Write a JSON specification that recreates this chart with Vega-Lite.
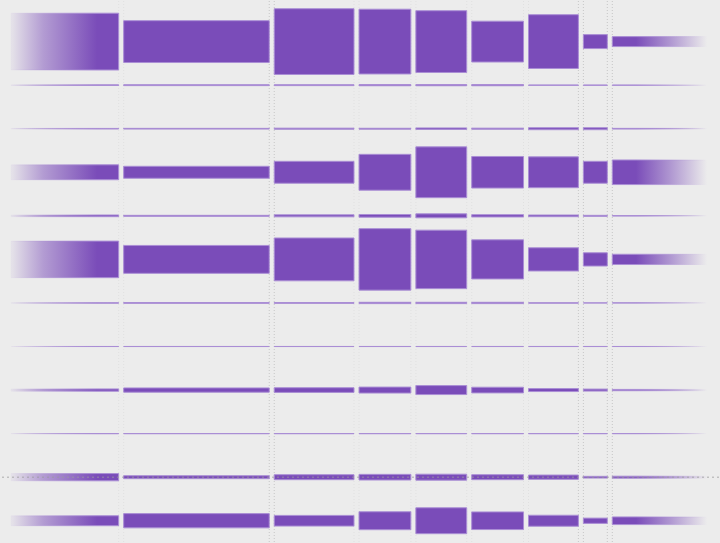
{
  "$schema": "https://vega.github.io/schema/vega-lite/v6.json",
  "width": 720,
  "height": 543,
  "autosize": {"type": "fit", "contains": "padding"},
  "padding": 0,
  "background": "#ececec",
  "config": {"view": {"stroke": null}},
  "datasets": {
    "cols": [
      {"col": 1, "w": 113, "le": "none", "re": "minor"},
      {"col": 2, "w": 151, "le": "minor", "re": "major"},
      {"col": 3, "w": 85, "le": "major", "re": "minor"},
      {"col": 4, "w": 57, "le": "minor", "re": "minor"},
      {"col": 5, "w": 56, "le": "minor", "re": "minor"},
      {"col": 6, "w": 57, "le": "minor", "re": "minor"},
      {"col": 7, "w": 55, "le": "minor", "re": "major"},
      {"col": 8, "w": 29, "le": "major", "re": "major"},
      {"col": 9, "w": 100, "le": "major", "re": "none"}
    ],
    "cells": [
      {"row": 1, "col": 1, "h": 57}, {"row": 1, "col": 2, "h": 42}, {"row": 1, "col": 3, "h": 66}, {"row": 1, "col": 4, "h": 65}, {"row": 1, "col": 5, "h": 62}, {"row": 1, "col": 6, "h": 41}, {"row": 1, "col": 7, "h": 54}, {"row": 1, "col": 8, "h": 14}, {"row": 1, "col": 9, "h": 10},
      {"row": 2, "col": 1, "h": 0.7}, {"row": 2, "col": 2, "h": 0.9}, {"row": 2, "col": 3, "h": 0.9}, {"row": 2, "col": 4, "h": 1.2}, {"row": 2, "col": 5, "h": 1.2}, {"row": 2, "col": 6, "h": 1.2}, {"row": 2, "col": 7, "h": 0.4}, {"row": 2, "col": 8, "h": 0.3}, {"row": 2, "col": 9, "h": 0.2},
      {"row": 3, "col": 1, "h": 0.6}, {"row": 3, "col": 2, "h": 0.7}, {"row": 3, "col": 3, "h": 1.1}, {"row": 3, "col": 4, "h": 0.9}, {"row": 3, "col": 5, "h": 1.6}, {"row": 3, "col": 6, "h": 1.1}, {"row": 3, "col": 7, "h": 2}, {"row": 3, "col": 8, "h": 2}, {"row": 3, "col": 9, "h": 0.7},
      {"row": 4, "col": 1, "h": 15}, {"row": 4, "col": 2, "h": 12}, {"row": 4, "col": 3, "h": 22}, {"row": 4, "col": 4, "h": 36}, {"row": 4, "col": 5, "h": 51}, {"row": 4, "col": 6, "h": 31.7}, {"row": 4, "col": 7, "h": 31}, {"row": 4, "col": 8, "h": 22}, {"row": 4, "col": 9, "h": 24.7},
      {"row": 5, "col": 1, "h": 1.7}, {"row": 5, "col": 2, "h": 1}, {"row": 5, "col": 3, "h": 2}, {"row": 5, "col": 4, "h": 2.7}, {"row": 5, "col": 5, "h": 4}, {"row": 5, "col": 6, "h": 2.3}, {"row": 5, "col": 7, "h": 1.7}, {"row": 5, "col": 8, "h": 1}, {"row": 5, "col": 9, "h": 0.5},
      {"row": 6, "col": 1, "h": 36.7}, {"row": 6, "col": 2, "h": 28}, {"row": 6, "col": 3, "h": 43}, {"row": 6, "col": 4, "h": 61.7}, {"row": 6, "col": 5, "h": 58.7}, {"row": 6, "col": 6, "h": 39.3}, {"row": 6, "col": 7, "h": 23.3}, {"row": 6, "col": 8, "h": 13.3}, {"row": 6, "col": 9, "h": 10.3},
      {"row": 7, "col": 1, "h": 0.5}, {"row": 7, "col": 2, "h": 0.8}, {"row": 7, "col": 3, "h": 0.8}, {"row": 7, "col": 4, "h": 1.3}, {"row": 7, "col": 5, "h": 1.3}, {"row": 7, "col": 6, "h": 1.3}, {"row": 7, "col": 7, "h": 0.4}, {"row": 7, "col": 8, "h": 0.15}, {"row": 7, "col": 9, "h": 0.15},
      {"row": 8, "col": 1, "h": 0.1}, {"row": 8, "col": 2, "h": 0.1}, {"row": 8, "col": 3, "h": 0.1}, {"row": 8, "col": 4, "h": 0.1}, {"row": 8, "col": 5, "h": 0.1}, {"row": 8, "col": 6, "h": 0.1}, {"row": 8, "col": 7, "h": 0.1}, {"row": 8, "col": 8, "h": 0.1}, {"row": 8, "col": 9, "h": 0.1},
      {"row": 9, "col": 1, "h": 2.3}, {"row": 9, "col": 2, "h": 4.3}, {"row": 9, "col": 3, "h": 4.7}, {"row": 9, "col": 4, "h": 6}, {"row": 9, "col": 5, "h": 9}, {"row": 9, "col": 6, "h": 5.7}, {"row": 9, "col": 7, "h": 3}, {"row": 9, "col": 8, "h": 2}, {"row": 9, "col": 9, "h": 1.3},
      {"row": 10, "col": 1, "h": 0.25}, {"row": 10, "col": 2, "h": 0.25}, {"row": 10, "col": 3, "h": 0.25}, {"row": 10, "col": 4, "h": 0.25}, {"row": 10, "col": 5, "h": 0.25}, {"row": 10, "col": 6, "h": 0.25}, {"row": 10, "col": 7, "h": 0.25}, {"row": 10, "col": 8, "h": 0.25}, {"row": 10, "col": 9, "h": 0.1},
      {"row": 11, "col": 1, "h": 7.3}, {"row": 11, "col": 2, "h": 3}, {"row": 11, "col": 3, "h": 5}, {"row": 11, "col": 4, "h": 5.7}, {"row": 11, "col": 5, "h": 6}, {"row": 11, "col": 6, "h": 5}, {"row": 11, "col": 7, "h": 4.3}, {"row": 11, "col": 8, "h": 1.7}, {"row": 11, "col": 9, "h": 2},
      {"row": 12, "col": 1, "h": 10}, {"row": 12, "col": 2, "h": 14.3}, {"row": 12, "col": 3, "h": 10.7}, {"row": 12, "col": 4, "h": 18}, {"row": 12, "col": 5, "h": 26}, {"row": 12, "col": 6, "h": 17.7}, {"row": 12, "col": 7, "h": 11}, {"row": 12, "col": 8, "h": 5.3}, {"row": 12, "col": 9, "h": 7.7}
    ]
  },
  "layer": [
    {
      "data": {"name": "cols"},
      "transform": [
        {"window": [{"op": "sum", "field": "w", "as": "xe"}], "sort": [{"field": "col"}], "frame": [null, 0]},
        {"calculate": "datum.xe - datum.w", "as": "xs"}
      ],
      "mark": {"type": "rule", "strokeDash": [1, 2], "strokeWidth": 1},
      "encoding": {
        "x": {"field": "xs", "type": "quantitative", "scale": {"domain": [-10, 710], "nice": false, "zero": false}, "axis": null},
        "color": {"field": "le", "type": "nominal", "scale": {"domain": ["major", "minor", "none"], "range": ["#c6c6c6", "#e0e0e0", "rgba(0,0,0,0)"]}, "legend": null}
      }
    },
    {
      "data": {"name": "cols"},
      "transform": [
        {"window": [{"op": "sum", "field": "w", "as": "xe"}], "sort": [{"field": "col"}], "frame": [null, 0]}
      ],
      "mark": {"type": "rule", "strokeDash": [1, 2], "strokeWidth": 1, "xOffset": -5},
      "encoding": {
        "x": {"field": "xe", "type": "quantitative", "scale": {"domain": [-10, 710], "nice": false, "zero": false}, "axis": null},
        "color": {"field": "re", "type": "nominal", "scale": {"domain": ["major", "minor", "none"], "range": ["#c6c6c6", "#e0e0e0", "rgba(0,0,0,0)"]}, "legend": null}
      }
    },
    {
      "data": {"name": "cells"},
      "transform": [
        {"lookup": "col", "from": {"data": {"name": "cols"}, "key": "col", "fields": ["w"]}},
        {"window": [{"op": "sum", "field": "w", "as": "xe"}], "groupby": ["row"], "sort": [{"field": "col"}], "frame": [null, 0]},
        {"calculate": "datum.xe - datum.w", "as": "xs"},
        {"calculate": "datum.row - datum.h / 87.44", "as": "ya"},
        {"calculate": "datum.row + datum.h / 87.44", "as": "yb"},
        {"filter": "datum.col > 1 && datum.col < 9"}
      ],
      "mark": {"type": "rect", "fill": "#7a4cb9", "stroke": "#aa8ed5", "strokeWidth": 1, "x2Offset": -5},
      "encoding": {
        "x": {"field": "xs", "type": "quantitative", "scale": {"domain": [-10, 710], "nice": false, "zero": false}, "axis": null},
        "x2": {"field": "xe"},
        "y": {"field": "ya", "type": "quantitative", "scale": {"domain": [0.068, 12.488], "reverse": true, "nice": false, "zero": false}, "axis": null},
        "y2": {"field": "yb"}
      }
    },
    {
      "data": {"name": "cells"},
      "transform": [
        {"lookup": "col", "from": {"data": {"name": "cols"}, "key": "col", "fields": ["w"]}},
        {"window": [{"op": "sum", "field": "w", "as": "xe"}], "groupby": ["row"], "sort": [{"field": "col"}], "frame": [null, 0]},
        {"calculate": "datum.xe - datum.w", "as": "xs"},
        {"calculate": "datum.row - datum.h / 87.44", "as": "ya"},
        {"calculate": "datum.row + datum.h / 87.44", "as": "yb"},
        {"filter": "datum.col == 1"}
      ],
      "mark": {
        "type": "rect",
        "x2Offset": -5,
        "strokeWidth": 1,
        "fill": {"gradient": "linear", "x1": 0, "y1": 0, "x2": 1, "y2": 0, "stops": [{"offset": 0, "color": "rgba(122,76,185,0.05)"}, {"offset": 0.3, "color": "rgba(122,76,185,0.5)"}, {"offset": 0.8, "color": "rgba(122,76,185,1)"}]},
        "stroke": {"gradient": "linear", "x1": 0, "y1": 0, "x2": 1, "y2": 0, "stops": [{"offset": 0, "color": "rgba(170,142,213,0.05)"}, {"offset": 0.8, "color": "rgba(170,142,213,1)"}]}
      },
      "encoding": {
        "x": {"field": "xs", "type": "quantitative", "scale": {"domain": [-10, 710], "nice": false, "zero": false}, "axis": null},
        "x2": {"field": "xe"},
        "y": {"field": "ya", "type": "quantitative", "scale": {"domain": [0.068, 12.488], "reverse": true, "nice": false, "zero": false}, "axis": null},
        "y2": {"field": "yb"}
      }
    },
    {
      "data": {"name": "cells"},
      "transform": [
        {"lookup": "col", "from": {"data": {"name": "cols"}, "key": "col", "fields": ["w"]}},
        {"window": [{"op": "sum", "field": "w", "as": "xe"}], "groupby": ["row"], "sort": [{"field": "col"}], "frame": [null, 0]},
        {"calculate": "datum.xe - datum.w", "as": "xs"},
        {"calculate": "datum.row - datum.h / 87.44", "as": "ya"},
        {"calculate": "datum.row + datum.h / 87.44", "as": "yb"},
        {"filter": "datum.col == 9"}
      ],
      "mark": {
        "type": "rect",
        "x2Offset": -5,
        "strokeWidth": 1,
        "fill": {"gradient": "linear", "x1": 0, "y1": 0, "x2": 1, "y2": 0, "stops": [{"offset": 0, "color": "rgba(122,76,185,1)"}, {"offset": 0.25, "color": "rgba(122,76,185,1)"}, {"offset": 0.6, "color": "rgba(122,76,185,0.55)"}, {"offset": 1, "color": "rgba(122,76,185,0)"}]},
        "stroke": {"gradient": "linear", "x1": 0, "y1": 0, "x2": 1, "y2": 0, "stops": [{"offset": 0, "color": "rgba(170,142,213,1)"}, {"offset": 0.25, "color": "rgba(170,142,213,1)"}, {"offset": 1, "color": "rgba(170,142,213,0)"}]}
      },
      "encoding": {
        "x": {"field": "xs", "type": "quantitative", "scale": {"domain": [-10, 710], "nice": false, "zero": false}, "axis": null},
        "x2": {"field": "xe"},
        "y": {"field": "ya", "type": "quantitative", "scale": {"domain": [0.068, 12.488], "reverse": true, "nice": false, "zero": false}, "axis": null},
        "y2": {"field": "yb"}
      }
    },
    {
      "data": {"values": [{"row": 11}]},
      "mark": {"type": "rule", "strokeDash": [2, 3], "strokeWidth": 1, "color": "#9a9a9a", "opacity": 0.8},
      "encoding": {
        "y": {"field": "row", "type": "quantitative", "scale": {"domain": [0.068, 12.488], "reverse": true, "nice": false, "zero": false}, "axis": null}
      }
    }
  ]
}
